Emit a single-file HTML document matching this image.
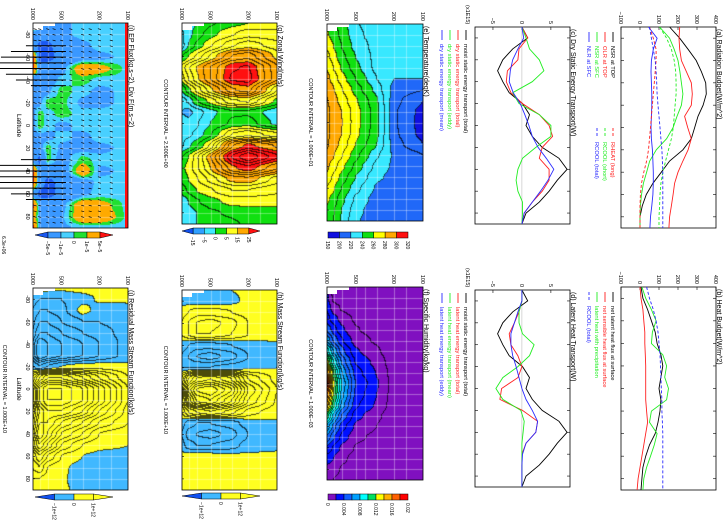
<!DOCTYPE html>
<html><head><meta charset="utf-8">
<style>
html,body{margin:0;padding:0;background:#fff;}
#root{position:relative;width:726px;height:525px;overflow:hidden;background:#fff;font-family:"Liberation Sans",sans-serif;}
canvas{position:absolute;}
#overlay{position:absolute;left:0;top:0;}
</style></head>
<body>
<div id="root">
<svg id="overlay" width="726" height="525" xmlns="http://www.w3.org/2000/svg"></svg>
</div>
<script>
// ---------------- data ----------------
const LATS = [-90,-80,-70,-60,-50,-40,-30,-20,-10,0,10,20,30,40,50,60,70,80,90];
const LEVS = [1000,850,700,500,300,200,100];

// (a) radiation budget W/m2
const nsrTop  = [156,209,253,296,323,346,349,332,305,288,270,226,156,112,68,33,12,0,0];
const olrTop  = [209,205,209,218,244,270,275,270,235,251,270,253,226,200,182,174,165,156,152];
const nsrSfc  = [103,156,180,200,210,218,226,218,195,174,140,86,51,35,18,8,2,0,0];
const nlrSfc  = [45,90,70,60,58,60,62,62,60,58,60,65,68,70,70,68,62,55,52];
const rheat   = [50,70,85,85,80,75,70,65,60,55,50,45,35,20,8,2,0,0,0];
const rcoolSw = [103,140,165,180,188,190,190,185,180,175,165,150,135,120,110,105,103,100,100];
const rcoolTot= [50,60,70,80,85,88,90,95,100,105,110,115,118,120,120,120,120,120,120];
// (b) heat budget W/m2
const latentSfc  = [5,15,40,60,80,90,110,120,110,100,110,105,95,80,50,30,15,10,5];
const sensibleSfc= [0,5,15,20,25,25,28,30,30,30,30,35,40,30,20,10,0,-10,-15];
const latentPrec = [10,30,60,85,65,60,120,140,130,150,140,60,50,90,75,55,35,20,15];
const rcoolTotB  = [35,50,70,85,95,100,105,108,110,112,115,115,118,120,120,120,120,120,120];
// (c) dry static energy transport x1E15 W
const moistTot = [0,1.0,-1.6,-3.3,-4.2,-3.3,-2.2,0.1,1.3,0.7,1.8,3.5,6.4,7.8,6.1,4.7,3.0,0.7,0];
const dryTot   = [0,1.0,-0.5,-0.7,-2.5,-2.7,-1.9,0.1,3.0,4.7,5.3,3.5,3.0,4.7,4.7,3.5,1.8,0.4,0];
const dryEddy  = [0,0.7,1.3,3.0,3.8,1.8,-1.6,-0.5,3.0,5.0,5.0,2.4,0.1,-0.7,-1.0,-0.7,0.1,0.1,0];
const dryMean  = [0,0.3,-0.7,-1.6,-2.0,-2.2,-1.5,-0.3,0.5,1.2,1.8,2.8,4.2,5.5,4.5,3.2,1.8,0.4,0];
// (d) latent heat transport x1E15 W
const lhTot  = [0,0,-0.5,-1.3,-2.2,-1.9,-0.7,0,-0.7,-3.5,-3.8,0.1,2.7,2.4,0.7,0,0,0,0];
const lhMean = [0,0,-0.5,-0.5,0.1,2.1,1.3,-0.7,-3.3,-4.5,-3.3,-0.2,0.4,0.2,0,0,0,0,0];
const lhEddy = [0,0,-0.7,-1.3,-1.9,-1.9,-1.6,-1.0,-0.5,0,0.7,1.8,2.7,2.4,0.7,0.1,0,0,0];

// (e) temperature K  rows = LEVS
const tempK = [
 [258,262,268,274,280,284,288,291,293,293,293,292,288,283,278,270,263,258,255],
 [252,256,260,265,270,276,281,285,287,287,287,285,281,275,268,262,256,252,250],
 [245,247,250,254,259,265,271,276,280,281,280,277,271,264,257,250,244,240,238],
 [232,234,236,240,244,250,256,262,265,265,264,260,254,247,240,234,228,224,222],
 [222,224,226,226,226,230,236,242,244,244,243,240,232,226,222,218,215,214,213],
 [222,224,225,225,224,220,216,214,212,212,213,215,218,218,217,215,213,212,212],
 [230,230,229,228,226,220,210,200,196,195,196,200,210,217,218,216,214,213,213]];
// (f) specific humidity g/kg
const humid = [
 [1.8,2.5,3,3.5,5,7,10,13,16,19,17,15,11,8,6,4,2.5,1.8,1.5],
 [0.35,0.7,1.4,2.5,3.5,4.9,7,9.1,11.2,12.6,11.9,10.5,7.7,5.6,4.2,2.8,2,1.4,1],
 [0.2,0.45,0.9,1.6,2.3,3.2,4.5,5.9,7.2,8.1,7.7,6.8,5,3.6,2.7,1.8,1.3,0.9,0.7],
 [0.1,0.2,0.4,0.8,1.1,1.5,2.2,2.9,3.5,4,3.7,3.3,2.4,1.8,1.3,0.9,0.6,0.4,0.3],
 [0.05,0.1,0.2,0.4,0.6,0.8,1.2,1.6,1.9,2.2,2,1.8,1.3,1,0.7,0.5,0.3,0.2,0.2],
 [0,0,0.05,0.1,0.15,0.2,0.3,0.4,0.5,0.5,0.5,0.45,0.3,0.25,0.2,0.1,0.1,0.05,0],
 [0,0,0,0,0,0,0,0,0,0,0,0,0,0,0,0,0,0,0]];
// (g) zonal wind m/s
const uWind = [
 [-2,-3,-4,2,8,6,0,-4,-5,-3,-3,-3,2,4,3,1,-2,-2,-1],
 [-1,-1,0,5,12,10,4,-2,-6,-4,-3,-1,5,6,5,3,0,-1,-1],
 [0,1,3,8,15,14,8,2,-4,-3,-2,2,9,9,7,5,2,0,0],
 [2,4,7,13,20,20,14,6,-1,0,2,8,17,15,11,7,4,2,1],
 [4,7,12,20,27,28,22,12,2,3,10,22,30,24,16,10,6,3,2],
 [5,9,14,22,28,29,24,13,2,4,12,26,35,27,17,10,6,4,3],
 [6,8,11,14,18,18,10,4,-2,-1,8,22,28,20,11,8,6,4,3]];
// (h) mass stream function 1e10 kg/s
const psiMass = [
 [0,-0.3,0.5,1,1,-0.5,-1,-1,2,3,2,1,-0.5,-1,-0.5,0.3,0.5,0.3,0],
 [0,-0.5,1,2,2,-1,-2,-1,6,9,7,3,-1.5,-2.5,-1.5,0.5,1,0.5,0],
 [0,-0.5,1.5,3,3,-1.5,-3,-1,8,12,10,4,-2,-3,-2,0.5,1,0.5,0],
 [0,-0.5,1.5,3.5,3,-1.5,-3.5,-1,9,13,11,5,-2,-3.5,-2,0.5,1,0.5,0],
 [0,-0.3,1,2.5,2,-1,-2.5,-0.5,7,10,8,3.5,-1.5,-2.5,-1.5,0.3,0.7,0.3,0],
 [0.2,0.3,0.5,1,1,-0.5,-1,-0.2,3,5,4,1.5,-0.5,-1,-0.5,0.2,0.3,0.2,0],
 [0.1,0.2,0.2,0.3,0.3,-0.1,-0.2,0,0.5,1,0.8,0.3,-0.1,-0.2,-0.1,0.1,0.1,0.1,0]];
// (j) residual mass stream function 1e10 kg/s
const psiResid = [
 [0.5,-0.5,-1,-1.5,-2,-3,-3,-1,3,5,5,4,5,6,5,3,2,1,0.5],
 [0.5,-1,-2,-3,-4,-6,-6,-2,6,10,10,8,9,10,8,5,3,1,0.5],
 [0.3,-1,-2,-3,-4,-5,-5,-1,8,12,12,10,9,8,6,3,1,0.5,0.3],
 [0.2,-1,-1.5,-2,-3,-4,-4,0,8,12,12,10,7,5,3,1,0.3,0.2,0.2],
 [0.5,-0.5,0.5,-1,-2,-3,-3,0.5,6,10,10,8,5,3,1,0,-0.5,-0.5,-0.3],
 [0.5,0.2,-0.5,-1,-1.5,-2,-2,0.5,4,7,7,5,3,1,0.3,-0.3,-1,-1,-0.5],
 [0.3,0.1,-0.2,-0.5,-0.5,-0.5,-0.5,0.2,1,2,2,1.5,1,0.3,0,-0.3,-0.5,-0.5,-0.3]];
// (i) EP flux divergence 1e-5 m/s2
const epDiv = [
 [6,-2,-3,6,6,-3,-2,-1.5,-1.5,-1.5,-1.5,-2,-3,6,6,-2,6,3,6],
 [-2,-3,-6,-6,-3,-3,-2,-1.5,0.5,0.5,-1.5,-2,-6,-3,-3,-6,-2,-1.5,-2],
 [-1.5,-3,-6,-6,-3,-2,-1.5,0.5,-0.5,-0.5,-1.5,0.5,0.5,-3,-6,-6,-3,-1.5,-1.5],
 [-1.5,-1.5,-3,-4,-2,-0.5,0.5,0.5,0.5,-1.5,-0.5,-1.5,-2,-3,-4,-4,-2,-1.5,-1.5],
 [-0.5,-0.5,-1.5,-2,3,0.5,-0.5,-1.5,-0.5,-0.5,-1.5,-1.5,0.5,3,-2,-1.5,3,3,-0.5],
 [-0.5,-0.5,-0.5,-1.5,2,-0.5,-1.5,-1.5,-0.5,-0.5,-0.5,-1.5,-0.5,-1.5,-0.5,-0.5,2,3,-0.5],
 [-0.5,-0.5,-0.5,-0.5,-0.5,-0.5,-0.5,-0.5,-0.5,-0.5,-0.5,-0.5,-0.5,-0.5,-0.5,-0.5,-0.5,-0.5,-0.5]];
// EP flux large vectors (vertical component, arbitrary units)
const epArrowLat = [-70,-65,-60,-55,-50,-45,-40,-35,30,35,40,45,50,55,60,65];
const epArrowFz  = [40,55,65,70,70,60,50,35,45,70,90,95,85,70,55,40];

// ---------------- geometry ----------------
const PI_ = {x0:33,x1:128,y0:23,y1:228};
const PJ = {x0:33,x1:128,y0:288,y1:490};
const PG = {x0:182,x1:277,y0:23,y1:224};
const PH = {x0:182,x1:277,y0:290,y1:490};
const PE = {x0:327,x1:423,y0:24,y1:221};
const PF = {x0:327,x1:423,y0:287,y1:480};
const PA = {x0:621,x1:716,y0:27,y1:228,vmin:-100,vmax:400};
const PB = {x0:621,x1:716,y0:287,y1:490,vmin:-100,vmax:400};
const PC = {x0:475,x1:570,y0:27,y1:224,vmin:-8.1,vmax:8.3};
const PD = {x0:475,x1:570,y0:290,y1:487,vmin:-8.1,vmax:8.3};

const NS='http://www.w3.org/2000/svg';
const svg=document.getElementById('overlay');
const root=document.getElementById('root');
function el(tag,attrs){const e=document.createElementNS(NS,tag);for(const k in attrs)e.setAttribute(k,attrs[k]);svg.appendChild(e);return e;}
function xOfP(P,p){return P.x0+Math.log10(1000/p)*(P.x1-P.x0);}
function yOfLat(P,lat){return P.y0+(lat+90)/180*(P.y1-P.y0);}
function xOfV(P,v){return P.x0+(v-P.vmin)/(P.vmax-P.vmin)*(P.x1-P.x0);}
function rtext(x,y,s,size,color,anchor){
  const t=el('text',{transform:`translate(${x},${y}) rotate(90)`,'font-size':size,fill:color||'#000','text-anchor':anchor||'start','font-family':'Liberation Sans, sans-serif'});
  t.textContent=s;return t;}
function hex(c){return [parseInt(c.slice(1,3),16),parseInt(c.slice(3,5),16),parseInt(c.slice(5,7),16)];}

function interp(grid,p,lat){
  let fi=(lat+90)/10; let i=Math.min(17,Math.max(0,Math.floor(fi))); let t=Math.min(1,Math.max(0,fi-i));
  t=t*t*(3-2*t);
  let lp=Math.log(p); let k=0;
  while(k<LEVS.length-2 && p<LEVS[k+1]) k++;
  let s=(Math.log(LEVS[k])-lp)/(Math.log(LEVS[k])-Math.log(LEVS[k+1])); s=Math.min(1,Math.max(0,s));
  const a=grid[k][i]*(1-t)+grid[k][i+1]*t, b=grid[k+1][i]*(1-t)+grid[k+1][i+1]*t;
  return a*(1-s)+b*s;}

function drawField(name,P,grid,bounds,colors,ci){
  const w=P.x1-P.x0,h=P.y1-P.y0;
  const c=document.createElement('canvas');c.width=w;c.height=h;
  c.style.left=P.x0+'px';c.style.top=P.y0+'px';
  
  
  root.insertBefore(c,svg);
  const ctx=c.getContext('2d');const img=ctx.createImageData(w,h);
  const vals=new Float32Array(w*h);
  for(let j=0;j<h;j++){const lat=-90+(j+0.5)/h*180;
    for(let i=0;i<w;i++){const p=1000/Math.pow(10,(i+0.5)/w);vals[j*w+i]=interp(grid,p,lat);}}
  const cols=colors.map(hex);
  for(let j=0;j<h;j++)for(let i=0;i<w;i++){
    const v=vals[j*w+i];let b=0;while(b<bounds.length&&v>=bounds[b])b++;
    let [r,g,bb]=cols[b];
    if(ci){const k=Math.floor(v/ci);
      const kr=i<w-1?Math.floor(vals[j*w+i+1]/ci):k, kd=j<h-1?Math.floor(vals[(j+1)*w+i]/ci):k;
      if(k!==kr||k!==kd){r=r*0.3;g=g*0.3;bb=bb*0.3;}}
    const o=(j*w+i)*4;img.data[o]=r;img.data[o+1]=g;img.data[o+2]=bb;img.data[o+3]=255;}
  ctx.putImageData(img,0,0);
  ctx.strokeStyle='rgba(255,255,255,0.35)';ctx.lineWidth=1;
  for(const p of [850,700,500,400,300,200,150]){const x=Math.round(xOfP(P,p)-P.x0)+0.5;ctx.beginPath();ctx.moveTo(x,0);ctx.lineTo(x,h);ctx.stroke();}
  for(let lat=-80;lat<=80;lat+=10){const y=Math.round(yOfLat(P,lat)-P.y0)+0.5;ctx.beginPath();ctx.moveTo(0,y);ctx.lineTo(w,y);ctx.stroke();}
}

const colE=['#1010e0','#2068f8','#38e8ff','#10e010','#ffff00','#ffa800','#ff1010'];
const bndE=[200,220,240,260,280,300];
const colF=['#8010c0','#0010ff','#1060ff','#00a0ff','#00ffff','#00e060','#ffff00','#ffb000','#ff6000','#ff0000'];
const bndF=[2,4,6,8,10,12,14,16,18];
const colG=['#1050f0','#30a0ff','#40e8ff','#10e010','#ffff20','#ffa800','#ff1010'];
const bndG=[-15,-5,0,5,15,25];
const colH=['#1050f0','#40b8ff','#ffff20','#ffff20'];
const bndH=[-100,0,100];
const colI=['#1a58f0','#3a98ff','#48d0ff','#20e030','#ffaa00','#ff1010'];
const bndI=[-5,-1,0,1,5];

drawField('ep-flux-divergence-field',PI_,epDiv,bndI,colI,0);
drawField('residual-stream-function-field',PJ,psiResid,bndH,colH,1);
drawField('zonal-wind-field',PG,uWind,bndG,colG,2.5);
drawField('mass-stream-function-field',PH,psiMass,bndH,colH,1);
drawField('temperature-field',PE,tempK,bndE,colE,10);
drawField('specific-humidity-field',PF,humid,bndF,colF,1);

for(const P of [PI_,PJ,PG,PH,PE,PF]){
  const m=el('polygon',{points:`${P.x0},${P.y0} ${P.x0+22},${P.y0} ${P.x0+22},${P.y0+3} ${P.x0+10},${P.y0+3} ${P.x0+10},${P.y0+7} ${P.x0},${P.y0+7}`,fill:'#fff'});
  
  
}
{const s=el('rect',{x:PI_.x1-3,y:PI_.y0,width:3,height:PI_.y1-PI_.y0,fill:'#ff1010'});

}

for(let lat=-85;lat<=85;lat+=5){for(const p of [950,850,700,600,500,400,300,250,200,150]){
  const x=xOfP(PI_,p),y=yOfLat(PI_,lat);
  const a=el('line',{x1:x-1.5,y1:y,x2:x+1.5,y2:y+0.8,stroke:'#000','stroke-width':0.7});
  
  
}}
epArrowLat.forEach((lat,i)=>{
  const xt=xOfP(PI_,450),y=yOfLat(PI_,lat);
  const a=el('line',{x1:xt-epArrowFz[i],y1:y,x2:xt,y2:y,stroke:'#000','stroke-width':1});
  
  
});

const contourPanels=[
 [PI_,'(i) EP Flux(kg.s−2), Div F(m.s−2)','ep-flux-panel',null,true],
 [PJ,'(j) Residual Mass Stream Function(kg/s)','residual-stream-panel','CONTOUR INTERVAL = 1.000E+10',true],
 [PG,'(g) Zonal Wind(m/s)','zonal-wind-panel','CONTOUR INTERVAL = 2.500E+00',false],
 [PH,'(h) Mass Stream Function(kg/s)','mass-stream-panel','CONTOUR INTERVAL = 1.000E+10',false],
 [PE,'(e) Temperature(degK)','temperature-panel','CONTOUR INTERVAL = 1.000E+01',false],
 [PF,'(f) Specific Humidity(kg/kg)','specific-humidity-panel','CONTOUR INTERVAL = 1.000E−03',false]];
const presTicks=[1000,500,200,100];
const latTicks=[-80,-60,-40,-20,0,20,40,60,80];
contourPanels.forEach(([P,title,name,ci,latLab])=>{
  const f=el('rect',{x:P.x0,y:P.y0,width:P.x1-P.x0,height:P.y1-P.y0,fill:'none',stroke:'#000','stroke-width':0.8});
  
  
  const t=rtext(P.x1+1,P.y0+2,title,7);
  
  
  presTicks.forEach(p=>{
    const tl=rtext(xOfP(P,p)-2,P.y0-3,String(p),5.5,'#000','end');
    
    
  });
  for(const lat of latTicks){
    const tk=el('line',{x1:P.x0,y1:yOfLat(P,lat),x2:P.x0+2,y2:yOfLat(P,lat),stroke:'#000','stroke-width':0.6});
    
    
    if(latLab){
      const ll=rtext(P.x0-7,yOfLat(P,lat),String(lat),5.5,'#000','middle');
      
      
    }
  }
  if(latLab){
    const lt=rtext(P.x0-16,(P.y0+P.y1)/2,'Latitude',6.5,'#000','middle');
    
    
  }
  if(ci){
    const ct=rtext(latLab?P.x0-30:P.x0-18,(P.y0+P.y1)/2,ci,5.5,'#000','middle');
    
    
  }
});

function colorbar(name,x0,x1,y,colors,labels,labelIdx,tri){
  const n=colors.length;const w=(x1-x0)/n;
  colors.forEach((c,i)=>{
    let shape;
    if(tri&&i===0) shape=el('polygon',{points:`${x0},${y+3} ${x0+w},${y} ${x0+w},${y+6}`,fill:c,stroke:'#000','stroke-width':0.5});
    else if(tri&&i===n-1) shape=el('polygon',{points:`${x0+i*w},${y} ${x1},${y+3} ${x0+i*w},${y+6}`,fill:c,stroke:'#000','stroke-width':0.5});
    else shape=el('rect',{x:x0+i*w,y:y,width:w,height:6,fill:c,stroke:'#000','stroke-width':0.5});
    
    
  });
  labels.forEach((s,i)=>{
    const t=rtext(x0+labelIdx[i]*w-2,y+9,s,5,'#000','start');
    
    
  });
}
colorbar('ep-colorbar',35,113,232,colI,['−5e−5','−1e−5','0','1e−5','5e−5'],[1,2,3,4,5],true);
colorbar('residual-colorbar',35,113,494,['#1050f0','#40b8ff','#ffff20','#ffff20'],['−1e+12','0','1e+12'],[1,2,3],true);
colorbar('zonal-wind-colorbar',182,260,228,colG,['−15','−5','0','5','15','25'],[1,2,3,4,5,6],true);
colorbar('mass-stream-colorbar',182,260,493,['#1050f0','#40b8ff','#ffff20','#ffff20'],['−1e+12','0','1e+12'],[1,2,3],true);
colorbar('temperature-colorbar',328,408,232,colE,['150','200','220','240','260','280','300','320'],[0,1,2,3,4,5,6,7],false);
colorbar('humidity-colorbar',328,408,494,colF,['0','0.004','0.008','0.012','0.016','0.02'],[0,2,4,6,8,10],false);
{const s=rtext(2,236,'6.3e+06',5);}

function linePanel(P,name,title,ticks,series,legend,unitLabel){
  const f=el('rect',{x:P.x0,y:P.y0,width:P.x1-P.x0,height:P.y1-P.y0,fill:'none',stroke:'#000','stroke-width':0.8});
  
  
  const t=rtext(P.x1+1,P.y0+2,title,7);
  
  
  ticks.forEach(v=>{
    const x=xOfV(P,v);
    const tk=el('line',{x1:x,y1:P.y0,x2:x,y2:P.y0+3,stroke:'#000','stroke-width':0.6});
    
    
    const tl=rtext(x-2,P.y0-3,v<0?'−'+Math.abs(v):String(v),5.5,'#000','end');
    
    
  });
  for(let lat=-80;lat<=80;lat+=20){
    const y=yOfLat(P,lat);
    const tk=el('line',{x1:P.x0,y1:y,x2:P.x0+3,y2:y,stroke:'#000','stroke-width':0.6});
    
    
    const tk2=el('line',{x1:P.x1,y1:y,x2:P.x1-3,y2:y,stroke:'#000','stroke-width':0.6});
    
    
  }
  if(P.vmin<0&&P.vmax>0&&P.vmax<20){
    const z=el('line',{x1:xOfV(P,0),y1:P.y0,x2:xOfV(P,0),y2:P.y1,stroke:'#999','stroke-width':0.4});
    
    
  }
  series.forEach(s=>{
    const d=s.vals.map((v,i)=>(i?'L':'M')+xOfV(P,v).toFixed(1)+','+yOfLat(P,LATS[i]).toFixed(1)).join(' ');
    const pth=el('path',{d:d,fill:'none',stroke:s.color,'stroke-width':0.9,'stroke-dasharray':s.dash||'none'});
    
    
  });
  legend.forEach(L=>{
    const ln=el('line',{x1:L.x+2,y1:L.y,x2:L.x+2,y2:L.y+10,stroke:L.color,'stroke-width':0.9,'stroke-dasharray':L.dash||'none'});
    
    
    const tx=rtext(L.x,L.y+14,L.text,5.8,L.color);
    
    
  });
  if(unitLabel){const u=rtext(P.x0-9,P.y0-22,unitLabel,5.5);}
}
const K='#000',R='#ff2020',G='#22ee22',B='#2a2aff';
linePanel(PA,'radiation-panel','(a) Radiation Budget(W/m^2)',[400,300,200,100,0,-100],[
 {vals:nsrTop,color:K,name:'nsr-top-line'},{vals:olrTop,color:R,name:'olr-top-line'},
 {vals:nsrSfc,color:G,name:'nsr-sfc-line'},{vals:nlrSfc,color:B,name:'nlr-sfc-line'},
 {vals:rheat,color:R,dash:'3,2',name:'rheat-line'},{vals:rcoolSw,color:G,dash:'3,2',name:'rcool-short-line'},
 {vals:rcoolTot,color:B,dash:'3,2',name:'rcool-total-line'}],[
 {x:611,y:32,color:K,text:'NSR at TOP'},{x:603,y:32,color:R,text:'OLR at TOP'},
 {x:595,y:32,color:G,text:'NSR at SFC'},{x:587,y:32,color:B,text:'NLR at SFC'},
 {x:611,y:128,color:R,dash:'3,2',text:'RHEAT (long)'},{x:603,y:128,color:G,dash:'3,2',text:'RCOOL (short)'},
 {x:595,y:128,color:B,dash:'3,2',text:'RCOOL (total)'}]);
linePanel(PB,'heat-budget-panel','(b) Heat Budget(W/m^2)',[400,300,200,100,0,-100],[
 {vals:latentSfc,color:K,name:'latent-flux-line'},{vals:sensibleSfc,color:R,name:'sensible-flux-line'},
 {vals:latentPrec,color:G,name:'latent-precip-line'},{vals:rcoolTotB,color:B,dash:'3,2',name:'rcool-total-line'}],[
 {x:611,y:292,color:K,text:'net latent heat flux at surface'},{x:603,y:292,color:R,text:'net sensible heat flux at surface'},
 {x:595,y:292,color:G,text:'latent heat with precipitation'},{x:587,y:292,color:B,dash:'3,2',text:'RCOOL (total)'}]);
linePanel(PC,'dry-static-panel','(c) Dry Static Energy Transport(W)',[5,0,-5],[
 {vals:moistTot,color:K,name:'moist-static-total-line'},{vals:dryTot,color:R,name:'dry-static-total-line'},
 {vals:dryEddy,color:G,name:'dry-static-eddy-line'},{vals:dryMean,color:B,name:'dry-static-mean-line'}],[
 {x:464,y:30,color:K,text:'moist static energy transport (total)'},{x:456,y:30,color:R,text:'dry static energy transport (total)'},
 {x:448,y:30,color:G,text:'dry static energy transport (eddy)'},{x:440,y:30,color:B,text:'dry static energy transport (mean)'}],'(x1E15)');
linePanel(PD,'latent-heat-panel','(d) Latent Heat Transport(W)',[5,0,-5],[
 {vals:moistTot,color:K,name:'moist-static-total-line'},{vals:lhTot,color:R,name:'latent-total-line'},
 {vals:lhMean,color:G,name:'latent-mean-line'},{vals:lhEddy,color:B,name:'latent-eddy-line'}],[
 {x:464,y:293,color:K,text:'moist static energy transport (total)'},{x:456,y:293,color:R,text:'latent heat energy transport (total)'},
 {x:448,y:293,color:G,text:'latent heat energy transport (mean)'},{x:440,y:293,color:B,text:'latent heat energy transport (eddy)'}],'(x1E15)');
</script>
</body></html>
